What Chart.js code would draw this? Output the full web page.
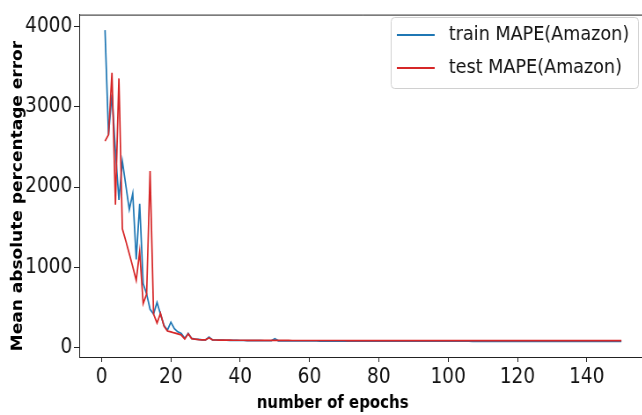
<!DOCTYPE html>
<html>
<head>
<meta charset="utf-8">
<script src="https://cdn.jsdelivr.net/npm/chart.js@4.4.1/dist/chart.umd.min.js"></script>
<style>
    html, body { margin: 0; padding: 0; background: #fff; overflow: hidden; }
    /* the source figure is squeezed horizontally, so draw wide and squeeze */
    #wrap { position: relative; width: 740px; height: 415px; transform: scaleX(0.88); transform-origin: 0 0; }
</style>
</head>
<body>
<div id="wrap"><canvas id="mapeChart"></canvas></div>
<script>
const xTicks = [0, 20, 40, 60, 80, 100, 120, 140];
const yTicks = [0, 1000, 2000, 3000, 4000];
const seriesNames = ['train MAPE(Amazon)', 'test MAPE(Amazon)'];

const trainMape = [
    3950, 2650, 3150, 2450, 1840, 2320, 2020, 1720, 1920, 1100,
    1790, 800, 670, 480, 420, 565, 420, 280, 220, 320,
    240, 200, 180, 120, 180, 118, 110, 105, 100, 100,
    135, 100, 98, 97, 96, 95, 94, 93, 93, 92,
    92, 91, 91, 90, 90, 90, 89, 89, 89, 115,
    88, 88, 88, 87, 87, 87, 87, 86, 86, 86,
    86, 86, 85, 85, 85, 85, 85, 85, 84, 84,
    84, 84, 84, 84, 84, 84, 84, 84, 84, 84,
    84, 84, 83, 83, 83, 83, 83, 83, 83, 83,
    83, 83, 83, 83, 83, 83, 83, 83, 83, 83,
    83, 83, 83, 83, 83, 83, 82, 82, 82, 82,
    82, 82, 82, 82, 82, 82, 82, 82, 82, 82,
    82, 82, 82, 82, 82, 82, 82, 82, 82, 82,
    82, 82, 82, 82, 82, 82, 82, 82, 82, 82,
    82, 82, 82, 82, 82, 82, 82, 82, 82, 82
];

const testMape = [
    2570, 2650, 3420, 1780, 3350, 1480, 1330, 1170, 1010, 840,
    1200, 550, 670, 2200, 420, 310, 430, 270, 210, 200,
    186, 175, 160, 110, 175, 115, 108, 103, 100, 100,
    125, 100, 98, 97, 97, 96, 96, 95, 95, 95,
    95, 94, 94, 94, 94, 93, 93, 93, 93, 93,
    93, 93, 93, 93, 92, 92, 92, 92, 92, 92,
    92, 92, 92, 92, 92, 92, 92, 92, 92, 92,
    91, 91, 91, 91, 91, 91, 91, 91, 91, 91,
    91, 91, 91, 91, 91, 91, 91, 91, 91, 91,
    91, 91, 91, 91, 91, 91, 91, 91, 91, 91,
    91, 91, 91, 91, 91, 91, 91, 91, 91, 91,
    90, 90, 90, 90, 90, 90, 90, 90, 90, 90,
    90, 90, 90, 90, 90, 90, 90, 90, 90, 90,
    90, 90, 90, 90, 90, 90, 90, 90, 90, 90,
    90, 90, 90, 90, 90, 90, 90, 90, 90, 90
];

const epochs = trainMape.map((_, i) => i + 1);

const TICK_FONT = { family: 'DejaVu Sans', size: 21 };

// legend box, axis titles and top spine drawn by hand, matplotlib style
const figureExtras = {
    id: 'figureExtras',
    afterDraw(chart) {
        const ctx = chart.ctx;
        const area = chart.chartArea;

        ctx.save();
        ctx.strokeStyle = '#222';
        ctx.lineWidth = 1;
        ctx.beginPath();
        ctx.moveTo(area.left, area.top + 0.5);
        ctx.lineTo(area.right, area.top + 0.5);
        ctx.stroke();

        ctx.fillStyle = '#000';
        ctx.font = 'bold 17px "DejaVu Sans"';
        ctx.textAlign = 'center';
        ctx.textBaseline = 'middle';
        ctx.fillText('number of epochs', 378, 404);

        ctx.save();
        ctx.translate(21, 196);
        ctx.rotate(-Math.PI / 2);
        ctx.fillText('Mean absolute percentage error', 0, 0);
        ctx.restore();

        // legend
        const box = { left: 444, top: 17, right: 725, bottom: 88 };
        ctx.fillStyle = 'rgba(255,255,255,0.8)';
        ctx.strokeStyle = '#d0d0d0';
        ctx.lineWidth = 1;
        ctx.beginPath();
        ctx.roundRect(box.left + 0.5, box.top + 0.5, box.right - box.left, box.bottom - box.top, 4);
        ctx.fill();
        ctx.stroke();

        const rows = [35, 68];
        ctx.font = '20px "DejaVu Sans"';
        ctx.textAlign = 'left';
        chart.data.datasets.forEach((ds, i) => {
            ctx.strokeStyle = ds.borderColor;
            ctx.lineWidth = 1.8;
            ctx.beginPath();
            ctx.moveTo(451, rows[i]);
            ctx.lineTo(494, rows[i]);
            ctx.stroke();
            ctx.fillStyle = '#111';
            ctx.fillText(ds.label, 510, rows[i]);
        });
        ctx.restore();
    }
};

new Chart(document.getElementById('mapeChart'), {
    type: 'line',
    data: {
        labels: epochs,
        datasets: [
            {
                label: seriesNames[0],
                data: trainMape,
                borderColor: '#1f77b4',
                borderWidth: 1.7,
                pointRadius: 0,
                tension: 0,
                order: 1
            },
            {
                label: seriesNames[1],
                data: testMape,
                borderColor: '#d62728',
                borderWidth: 1.7,
                pointRadius: 0,
                tension: 0,
                order: 0
            }
        ]
    },
    options: {
        responsive: true,
        maintainAspectRatio: false,
        animation: false,
        layout: { padding: { top: 7, right: 4.5, left: 0, bottom: 0 } },
        plugins: {
            legend: { display: false },
            tooltip: { enabled: false }
        },
        scales: {
            x: {
                type: 'linear',
                min: -6.45,
                max: 157.45,
                afterBuildTicks: axis => { axis.ticks = xTicks.map(v => ({ value: v })); },
                afterFit: axis => { axis.height = 58; },
                ticks: { font: TICK_FONT, color: '#111', padding: 3, autoSkip: false, maxRotation: 0, callback: v => String(v) },
                grid: { drawOnChartArea: false, drawTicks: true, tickLength: 5, color: '#222' },
                border: { display: true, color: '#222', width: 1 }
            },
            y: {
                min: -113,
                max: 4143,
                afterBuildTicks: axis => { axis.ticks = yTicks.map(v => ({ value: v })); },
                afterFit: axis => { axis.width = 90; },
                ticks: { font: TICK_FONT, color: '#111', padding: 2, callback: v => String(v) },
                grid: { drawOnChartArea: false, drawTicks: true, tickLength: 6, color: '#222' },
                border: { display: true, color: '#222', width: 1 }
            }
        }
    },
    plugins: [figureExtras]
});
</script>
</body>
</html>
